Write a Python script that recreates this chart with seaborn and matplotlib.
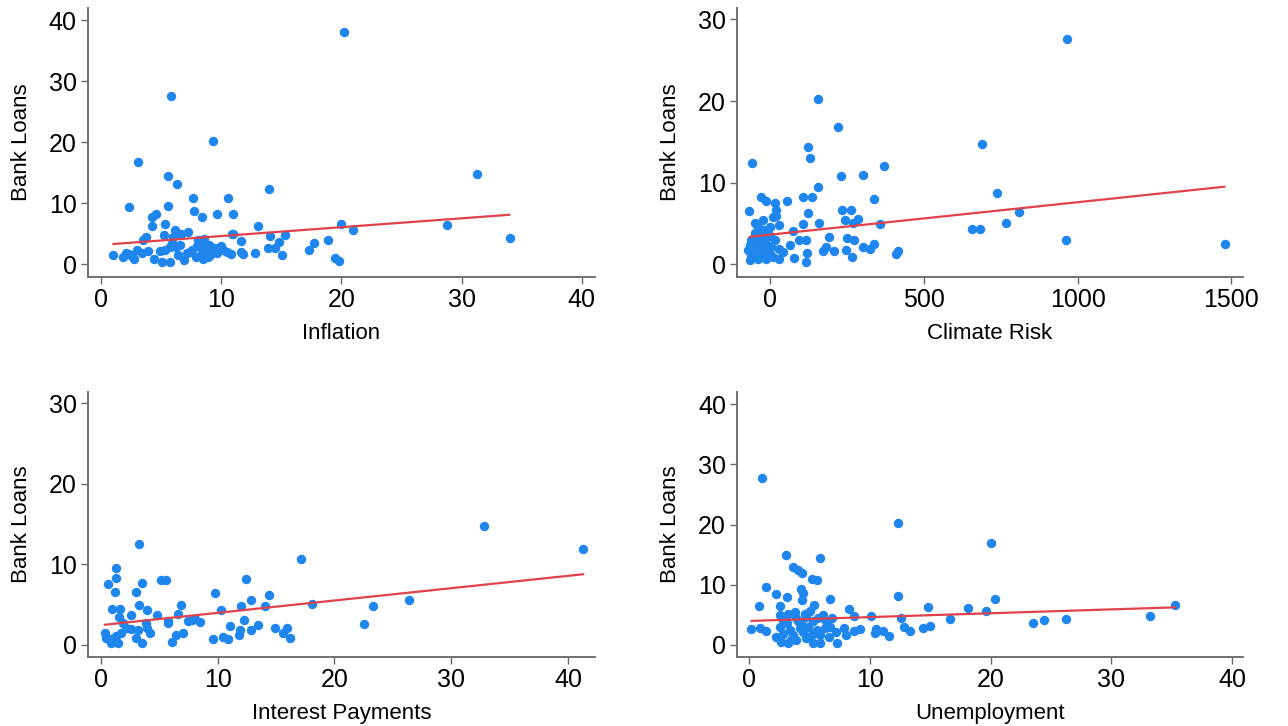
import matplotlib
matplotlib.use("Agg")
import matplotlib.pyplot as plt
import seaborn as sns

# Inflation vs bank loans
infl_x = [20.25, 5.85, 9.33, 3.13, 5.62, 6.32, 14.0, 31.3, 2.35, 5.6, 7.7, 10.55, 7.8, 8.4, 9.7, 11.0,
          4.6, 4.24, 4.3, 5.37, 13.1, 20.0, 21.0, 28.8, 34.0, 5.3, 6.2, 6.7, 7.3, 3.77, 3.55, 10.9,
          11.0, 11.7, 14.1, 15.3, 14.85, 13.9, 14.5, 15.1, 12.8, 11.85, 11.66, 17.3, 17.75, 18.9, 19.5,
          19.8, 1.05, 1.9, 2.4, 2.8, 3.0, 3.4, 4.4, 5.1, 5.8, 5.35, 5.8, 6.3, 6.45, 6.9, 7.4,
          8.0, 8.4, 8.8, 9.4, 9.9, 10.5, 8.1, 8.5, 7.9, 9.1, 9.7, 10.2, 8.3, 8.7, 9.2, 8.6, 9.0,
          10.8, 7.6, 8.9, 9.5, 10.0, 7.2, 6.6, 5.9, 6.0, 4.9, 2.1, 2.6, 3.9]
infl_y = [38.0, 27.5, 20.2, 16.8, 14.5, 13.1, 12.4, 14.75, 9.4, 9.5, 10.8, 10.9, 8.7, 7.8, 8.2, 8.3,
          8.3, 7.65, 6.3, 6.6, 6.3, 6.6, 5.6, 6.5, 4.3, 4.75, 5.6, 5.0, 5.2, 4.4, 3.9, 4.9,
          5.0, 3.8, 4.6, 4.75, 3.7, 2.7, 2.6, 1.5, 1.9, 1.6, 2.0, 2.3, 3.4, 4.0, 1.0,
          0.5, 1.5, 1.2, 1.6, 0.8, 2.4, 1.9, 0.8, 0.3, 0.3, 2.3, 2.8, 2.8, 1.5, 0.65, 2.0,
          2.9, 1.8, 2.3, 2.6, 2.8, 2.0, 3.9, 0.9, 1.2, 1.5, 1.8, 2.3, 3.4, 2.6, 2.8, 4.2, 3.2,
          1.7, 2.4, 1.1, 2.2, 3.0, 1.8, 3.2, 3.5, 4.5, 2.1, 1.9, 1.4, 2.2]
infl_fit_x = [1.05, 34.0]
infl_fit_y = [3.3, 8.1]

# Climate risk vs bank loans
clim_x = [965, 156, 222, 123, 128, 690, -59, 369, 230, 302, 154, -29, -15, 14, 54, 108, 136, 338, 738,
          -70, 20, 123, 232, 264, 809, 766, 28, 108, 158, 242, 285, 356, 269, 74, 656, 683, 961, 1478,
          95, 117, 191, 251, 274, 339, 323, 301, 245, 206, 171, 182, 415, 408, 66, 41, 30, 77, 119,
          115, 267,
          -67, -56, -46, -35, -24, -13, -2, -62, -51, -40, -24, -13, -35, -18, -8, 3, 9, -56, -29,
          -40, -73, -67, -51, 9, 20, -24, -2, -29, -13, -18, -46, -62, -2, 14, 30]
clim_y = [27.6, 20.2, 16.8, 14.4, 13.0, 14.75, 12.4, 12.0, 10.8, 10.9, 9.5, 8.2, 7.7, 7.5, 7.7, 8.2, 8.2,
          8.0, 8.7, 6.5, 6.6, 6.3, 6.6, 6.6, 6.4, 5.1, 4.8, 4.9, 5.0, 5.4, 5.5, 4.9, 5.0, 4.1, 4.3, 4.3,
          3.0, 2.5, 3.0, 2.95, 3.3, 3.2, 2.95, 2.5, 1.9, 2.1, 1.8, 1.6, 1.6, 2.1, 1.6, 1.2, 2.3, 1.5,
          0.7, 0.8, 1.4, 0.3, 0.9,
          0.5, 1.3, 2.1, 0.9, 1.7, 2.5, 1.3, 3.0, 3.8, 4.6, 5.4, 4.2, 3.4, 3.0, 3.8, 2.1, 0.9, 1.9, 2.3,
          0.7, 1.7, 2.3, 5.0, 5.8, 5.9, 4.2, 3.4, 1.3, 0.7, 1.9, 3.0, 1.1, 4.6, 3.0, 1.9]
clim_fit_x = [-67, 1478]
clim_fit_y = [3.36, 9.5]

# Interest payments vs bank loans
intp_x = [32.8, 41.3, 3.26, 17.1, 1.29, 1.29, 0.66, 1.23, 3.54, 5.14, 5.57, 12.4, 3.0, 9.77, 14.4, 12.9,
          18.1, 26.4, 23.3, 22.5, 3.26, 6.9, 0.94, 1.63, 4.0, 2.57, 1.57, 4.8, 6.6, 10.3, 12.0, 14.1,
          5.8, 5.8, 7.5, 8.1, 8.5, 7.8, 3.9, 1.9, 2.2, 2.6, 3.2, 4.0, 4.2, 3.06, 3.5, 0.34, 0.49, 0.9,
          1.5, 1.3, 1.7, 0.8, 6.1, 6.4, 7.06, 9.6, 10.5, 10.9, 11.1, 11.8, 11.9, 12.3, 12.9, 13.5,
          14.9, 15.6, 15.97, 16.2]
intp_y = [14.8, 11.9, 12.5, 10.7, 9.5, 8.3, 7.5, 6.5, 7.7, 8.1, 8.1, 8.2, 6.5, 6.4, 6.2, 5.5,
          5.1, 5.5, 4.75, 2.6, 4.9, 4.9, 4.5, 4.4, 4.3, 3.7, 3.5, 3.7, 3.8, 4.3, 4.75, 4.75,
          2.9, 2.7, 3.0, 3.2, 2.8, 3.1, 2.7, 2.7, 2.1, 1.9, 1.8, 2.1, 1.45, 0.8, 0.2, 1.45, 0.8, 0.2,
          0.2, 1.1, 1.45, 0.7, 0.33, 1.24, 1.5, 0.7, 0.95, 0.7, 2.36, 1.16, 1.8, 3.1, 1.8, 2.4,
          2.1, 1.45, 2.1, 0.8]
intp_fit_x = [0.34, 41.3]
intp_fit_y = [2.48, 8.76]

# Unemployment vs bank loans
unem_x = [1.05, 12.3, 20.0, 3.04, 5.86, 3.6, 4.06, 4.4, 5.17, 5.6, 1.44, 4.3, 4.5, 4.4, 2.27, 3.15,
          6.74, 12.35, 20.4, 0.83, 2.6, 5.4, 14.8, 18.1, 35.3, 19.6, 8.3, 8.7, 10.1, 12.6, 16.6, 33.2,
          23.5, 24.4, 26.2, 0.19, 0.94, 1.44, 2.2, 2.68, 3.2, 3.9, 4.75, 5.3, 5.9, 6.6, 7.3, 8.06,
          7.9, 9.2, 8.7, 10.4, 10.55, 11.1, 11.6, 12.8, 13.3, 14.4, 15.0,
          2.54, 3.78, 5.03, 6.13, 6.9, 2.8, 3.9, 4.75, 5.7, 2.6, 3.37, 4.2, 4.9, 5.6, 6.3, 6.7, 7.2,
          2.8, 3.65, 4.5, 5.3, 5.86, 3.1, 4.3, 5.3, 6.4, 3.2, 4.6, 4.06, 5.0, 3.5]
unem_y = [27.8, 20.3, 16.9, 14.9, 14.5, 13.0, 12.4, 12.0, 10.9, 10.8, 9.6, 9.3, 8.6, 7.5, 8.4, 8.0,
          7.7, 8.1, 7.6, 6.5, 6.5, 6.6, 6.3, 6.2, 6.7, 5.6, 5.9, 4.8, 4.75, 4.5, 4.25, 4.75,
          3.7, 4.1, 4.3, 2.65, 2.9, 2.4, 1.4, 0.55, 0.3, 0.8, 1.1, 0.3, 0.3, 1.4, 0.3, 1.66,
          2.76, 2.6, 2.4, 2.0, 2.6, 2.4, 1.5, 3.0, 2.4, 2.76, 3.2,
          5.0, 5.4, 5.7, 5.0, 4.4, 4.1, 4.4, 4.7, 4.4, 3.0, 2.5, 2.8, 3.0, 2.5, 2.8, 3.0, 2.2,
          1.9, 1.66, 2.2, 1.9, 1.66, 3.6, 3.6, 3.9, 3.9, 5.2, 5.2, 3.9, 1.4, 0.8]
unem_fit_x = [0.19, 35.3]
unem_fit_y = [4.0, 6.25]

panels = [
    (infl_x, infl_y, infl_fit_x, infl_fit_y, 'Inflation', (-1.05, 41.1), (-2.1, 42),
     [0, 10, 20, 30, 40], [0, 10, 20, 30, 40]),
    (clim_x, clim_y, clim_fit_x, clim_fit_y, 'Climate Risk', (-108, 1538), (-1.56, 31.4),
     [0, 500, 1000, 1500], [0, 10, 20, 30]),
    (intp_x, intp_y, intp_fit_x, intp_fit_y, 'Interest Payments', (-1.09, 42.3), (-1.53, 31.4),
     [0, 10, 20, 30, 40], [0, 10, 20, 30]),
    (unem_x, unem_y, unem_fit_x, unem_fit_y, 'Unemployment', (-1.0, 40.9), (-2.0, 42),
     [0, 10, 20, 30, 40], [0, 10, 20, 30, 40]),
]
boxes = [[0.0683, 0.6185, 0.3937, 0.3705], [0.5722, 0.6185, 0.3929, 0.3705],
         [0.0683, 0.095, 0.3937, 0.365], [0.5722, 0.095, 0.3929, 0.365]]

sns.set_style("ticks")
plt.rcParams['font.family'] = ['Liberation Sans', 'DejaVu Sans']

fig = plt.figure(figsize=(12.88, 7.26), dpi=100)
for (px, py, fx, fy, xlab, xl, yl, xt, yt), box in zip(panels, boxes):
    ax = fig.add_axes(box)
    sns.scatterplot(x=px, y=py, ax=ax, s=46, color='#1e86ec', linewidth=0, alpha=1)
    # fitted line
    sns.lineplot(x=fx, y=fy, ax=ax, color='#e0424c', lw=1.6)
    ax.set_xlim(xl)
    ax.set_ylim(yl)
    ax.set_xticks(xt)
    ax.set_yticks(yt)
    ax.set_xlabel(xlab, fontsize=16, labelpad=8, color='black')
    ax.set_ylabel('Bank Loans', fontsize=16, labelpad=12, color='black')
    ax.tick_params(length=5, width=1, color='#666666', labelsize=18, labelcolor='black', pad=3)
    for s in ['top', 'right']:
        ax.spines[s].set_visible(False)
    for s in ['left', 'bottom']:
        ax.spines[s].set_color('#666666')
        ax.spines[s].set_linewidth(1.3)

fig.savefig('out.png', dpi=100)
